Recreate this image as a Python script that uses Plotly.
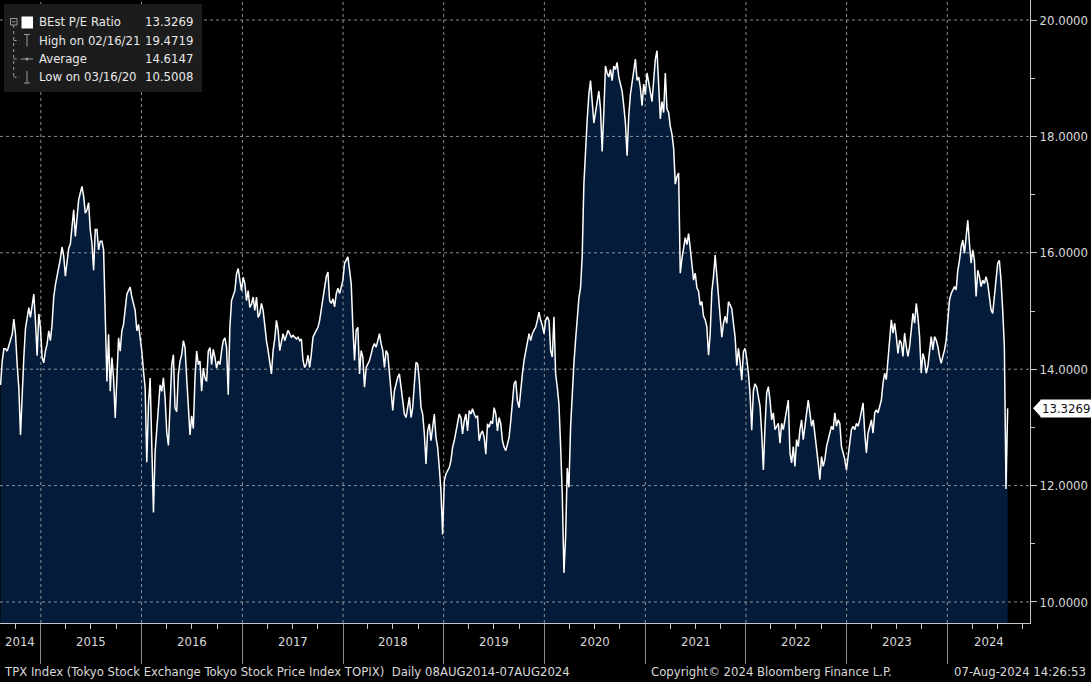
import plotly.graph_objects as go
import pandas as pd

# ---------------- data ----------------
START_DATE = "2014-08-08"
END_DATE = "2024-08-07"

pe_2014_2016 = [
    13.73, 14.14, 14.35, 14.35, 14.31, 14.42, 14.52, 14.6, 14.86, 14.6,
    14.08, 13.68, 12.87, 13.7, 14.2, 14.7, 14.9, 15.06, 14.89, 15.12,
    15.29, 14.83, 14.23, 14.95, 14.72, 14.2, 14.11, 14.31, 14.43, 14.66,
    14.49, 14.77, 15.24, 15.45, 15.6, 15.7, 15.9, 16.1, 15.95, 15.6,
    15.9, 16.08, 16.15, 16.39, 16.74, 16.28, 16.57, 16.91, 17.03, 17.14,
    16.97, 16.68, 16.74, 16.86, 16.39, 16.16, 15.7, 16.4, 16.4, 16.05,
    16.2, 16.2, 16.05, 14.89, 13.79, 14.6, 13.62, 14.2, 13.85, 13.16,
    13.97, 14.54, 14.31, 14.66, 14.77, 15.01, 15.29, 15.35, 15.41, 15.24,
    15.12, 15.01, 14.66, 14.77, 14.54, 14.31, 13.97, 13.68, 12.4, 13.39,
    13.85, 12.9, 11.54, 12.58, 12.92, 13.39, 13.73, 13.62, 13.85, 13.5,
    12.92, 12.69, 13.5, 14.08, 14.25, 13.33, 13.27, 13.91, 14.14, 14.25,
    14.49, 14.37, 13.85, 13.39, 12.87, 13.2, 12.98, 13.85, 14.31, 14.08,
    14.14, 13.62, 14.02, 13.85, 13.79, 14.31, 14.37, 14.08, 14.34, 14.2,
    14.02, 14.14, 14.08, 14.31, 14.49, 14.54, 14.37, 13.56, 14.72, 15.18,
    15.29, 15.35, 15.64, 15.73, 15.53, 15.35, 15.58, 15.47, 15.18, 15.35,
    15.06, 15.12, 15.24, 15.01, 15.24, 14.89,
]

pe_2017_2020 = [
    14.95, 15.13, 15.01, 14.72, 14.49, 14.32, 14.09, 13.92, 14.32, 14.52,
    14.84, 14.67, 14.32, 14.49, 14.61, 14.49, 14.58, 14.67, 14.61, 14.55,
    14.58, 14.55, 14.52, 14.55, 14.49, 14.52, 14.15, 14.03, 14.09, 14.24,
    14.03, 14.26, 14.55, 14.61, 14.67, 14.72, 14.84, 15.01, 15.18, 15.36,
    15.59, 15.67, 15.18, 15.13, 15.21, 15.07, 15.3, 15.39, 15.3, 15.41,
    15.53, 15.82, 15.87, 15.93, 15.7, 15.47, 14.72, 14.15, 14.67, 14.72,
    13.92, 14.32, 14.21, 13.69, 14.03, 14.09, 14.15, 14.26, 14.38, 14.44,
    14.38, 14.49, 14.61, 14.44, 14.32, 14.03, 14.32, 14.26, 13.92, 13.69,
    13.29, 13.63, 13.75, 13.86, 13.92, 13.69, 13.52, 13.23, 13.17, 13.34,
    13.52, 13.17, 13.34, 13.75, 14.12, 14.09, 13.8, 13.34, 13.23, 12.89,
    12.37, 12.94, 13.06, 12.77, 13.0, 13.23, 12.83, 12.66, 12.31, 11.91,
    11.16, 12.08, 12.2, 12.25, 12.31, 12.43, 12.66, 12.77, 12.94, 13.11,
    13.23, 13.17, 12.89, 13.11, 13.23, 12.94, 13.29, 13.23, 13.32, 13.23,
    13.17, 13.2, 12.77, 12.89, 12.94, 12.83, 12.54, 13.06, 13.0, 13.11,
    13.06, 13.34, 13.23, 12.94, 13.17, 13.06, 12.77, 12.66, 12.6, 12.71,
    12.83, 13.11, 13.46, 13.75, 13.8, 13.46, 13.34, 13.69, 13.92, 14.15,
    14.32, 14.44, 14.61, 14.49, 14.61, 14.67, 14.72, 14.84, 14.98, 14.84,
    14.75, 14.61, 14.84, 14.9, 14.84, 14.32, 14.21, 14.9, 13.92, 13.69,
    13.4,
]

pe_2020_2022 = [
    12.68, 11.85, 10.5008, 11.11, 12.3, 11.97, 13.0, 13.69, 14.1, 14.5,
    14.85, 15.22, 15.4, 15.95, 17.18, 17.8, 18.29, 18.72, 18.96, 18.6,
    18.23, 18.41, 18.6, 18.78, 18.47, 17.74, 18.41, 19.21, 19.09, 19.02,
    19.15, 18.96, 19.21, 19.15, 19.27, 19.02, 18.9, 18.78, 18.53, 18.23,
    17.67, 18.35, 18.72, 18.9, 19.09, 19.33, 18.96, 19.02, 18.84, 18.53,
    18.9, 18.72, 19.09, 18.9, 18.78, 18.6, 18.96, 19.33, 19.4719, 18.95,
    18.3, 18.6, 18.41, 19.09, 18.47, 18.41, 18.17, 18.04, 17.8, 17.18,
    17.31, 17.37, 15.65, 15.9, 16.08, 16.26, 16.14, 16.33, 16.08, 15.83,
    15.53, 15.65, 15.4, 15.34, 15.1, 15.16, 14.91, 14.85, 14.73, 14.24,
    14.6, 15.34, 15.59, 15.96, 15.59, 15.28, 14.91, 14.55, 14.79, 14.91,
    14.79, 15.16, 15.1, 15.04, 14.79, 14.55, 14.06, 14.36, 14.12, 13.81,
    14.3, 14.36, 14.18, 13.93, 13.56, 12.95, 13.63, 13.75, 13.69, 13.5,
]

pe_2022_2024 = [
    13.36, 12.9, 12.27, 13.02, 13.59, 13.7, 13.47, 13.13, 13.25, 12.96,
    13.02, 13.07, 12.73, 13.07, 12.96, 13.13, 13.36, 13.47, 12.56, 12.39,
    12.67, 12.33, 12.79, 12.67, 12.96, 13.13, 12.79, 13.02, 13.25, 13.47,
    13.25, 13.02, 13.13, 12.9, 12.67, 12.39, 12.1, 12.5, 12.33, 12.45,
    12.67, 12.79, 12.9, 13.02, 12.96, 13.25, 13.02, 13.13, 13.07, 12.67,
    12.56, 12.45, 12.27, 12.5, 12.73, 12.96, 13.02, 12.96, 13.07, 13.02,
    13.13, 13.25, 13.42, 12.9, 12.56, 12.9, 13.02, 13.13, 12.9, 13.25,
    13.3, 13.25, 13.36, 13.47, 13.76, 13.93, 13.82, 14.16, 14.5, 14.85,
    14.62, 14.79, 14.56, 14.27, 14.5, 14.45, 14.22, 14.62, 14.39, 14.22,
    14.39, 14.73, 14.96, 14.79, 15.13, 14.9, 14.56, 13.93, 14.27, 14.16,
    13.93, 14.05, 14.27, 14.56, 14.33, 14.56, 14.5, 14.39, 14.22, 14.1,
    14.22, 14.33, 14.5, 14.79, 15.19, 15.3, 15.36, 15.42, 15.36, 15.7,
    15.87, 16.1, 16.22, 15.99, 16.27, 16.56, 16.16, 15.82, 16.05, 15.87,
    15.25, 15.7, 15.59, 15.42, 15.53, 15.47, 15.59, 15.47, 15.25, 15.02,
    14.96, 15.25, 15.65, 15.82, 15.87, 15.53, 15.02, 14.4, 11.94, 13.3269,
]

pe_values = pe_2014_2016 + pe_2017_2020 + pe_2020_2022 + pe_2022_2024
dates = pd.date_range(START_DATE, END_DATE, periods=len(pe_values))

x_range = ["2014-08-06", "2024-10-27"]
y_range = [9.639, 20.344]
y_ticks = [10, 12, 14, 16, 18, 20]
y_tick_labels = ["10.0000", "12.0000", "14.0000", "16.0000", "18.0000", "20.0000"]
y_minor_ticks = [11, 13, 15, 17, 19]
years = list(range(2014, 2025))
year_starts = [f"{y}-01-01" for y in years[1:]]

series_name = "BEst P/E Ratio"
last_value = 13.3269
legend_rows = [
    ("BEst P/E Ratio", "13.3269"),
    ("High on 02/16/21", "19.4719"),
    ("Average", "14.6147"),
    ("Low on 03/16/20", "10.5008"),
]
footer_left = "TPX Index (Tokyo Stock Exchange Tokyo Stock Price Index TOPIX)  Daily 08AUG2014-07AUG2024"
footer_mid = "Copyright\u00a9 2024 Bloomberg Finance L.P."
footer_right = "07-Aug-2024 14:26:53"

# ---------------- styling ----------------
W, H = 1091, 682
ML, MR, MT, MB = 0, 61, 0, 59
PW, PH = W - ML - MR, H - MT - MB
FONT = "DejaVu Sans Condensed, DejaVu Sans, sans-serif"
TXT = "#d9d9d9"
FILL = "#041C3A"
AXIS = "#c8c8c8"
GRID = "rgba(175,175,175,0.8)"


def px(x):
    return x / PW


def py(y):
    return 1 - y / PH


fig = go.Figure()

# area fill
fig.add_trace(go.Scatter(
    x=dates, y=pe_values, mode="lines", line=dict(width=0, color=FILL),
    fill="tozeroy", fillcolor=FILL, hoverinfo="skip", showlegend=False))

# dotted grid drawn above the fill but below the line
gx, gy = [], []
for v in y_ticks:
    gx += [x_range[0], x_range[1], None]
    gy += [v, v, None]
for ys in year_starts:
    gx += [ys, ys, None]
    gy += [y_range[0], y_range[1], None]
fig.add_trace(go.Scatter(
    x=gx, y=gy, mode="lines", line=dict(color=GRID, width=1, dash="dot"),
    hoverinfo="skip", showlegend=False, connectgaps=False))

# white series line
fig.add_trace(go.Scatter(
    x=dates, y=pe_values, mode="lines", name=series_name,
    line=dict(color="white", width=1.5), showlegend=False))

annotations = []
shapes = []

# year labels centred in visible part of each year
xr0, xr1 = pd.Timestamp(x_range[0]), pd.Timestamp(x_range[1])
for y in years:
    s = max(pd.Timestamp(f"{y}-01-01"), xr0)
    e = min(pd.Timestamp(f"{y + 1}-01-01"), xr1)
    mid = s + (e - s) / 2
    annotations.append(dict(
        x=mid, y=py(641), xref="x", yref="paper", text=str(y), showarrow=False,
        font=dict(family=FONT, size=13, color=TXT), xanchor="center", yanchor="middle"))

# footer
annotations += [
    dict(x=px(2), y=py(671), xref="paper", yref="paper", text=footer_left, showarrow=False,
         font=dict(family=FONT, size=13, color=TXT), xanchor="left", yanchor="middle"),
    dict(x=px(649), y=py(671), xref="paper", yref="paper", text=footer_mid, showarrow=False,
         font=dict(family=FONT, size=13, color=TXT), xanchor="left", yanchor="middle"),
    dict(x=px(1088), y=py(671), xref="paper", yref="paper", text=footer_right, showarrow=False,
         font=dict(family=FONT, size=13, color=TXT), xanchor="right", yanchor="middle"),
]

# last value tag on the right axis
annotations.append(dict(
    x=1, y=last_value, xref="paper", yref="y", text=f"{last_value:.4f}", showarrow=False,
    xanchor="left", yanchor="middle", xshift=10, bgcolor="white", borderpad=1,
    font=dict(family=FONT, size=13, color="#111111")))
shapes.append(dict(
    type="path", xref="paper", yref="y", layer="above",
    path=f"M {px(1033)},{last_value} L {px(1041)},{last_value + 0.15} L {px(1041)},{last_value - 0.15} Z",
    fillcolor="white", line=dict(width=0)))

# legend box
shapes.append(dict(type="rect", xref="paper", yref="paper", layer="above",
                   x0=px(4), x1=px(202), y0=py(92), y1=py(4),
                   fillcolor="#1c1c1c", line=dict(width=0)))
row_y = [22, 40.5, 59, 77]
for (label, val), ry in zip(legend_rows, row_y):
    annotations.append(dict(x=px(37), y=py(ry), xref="paper", yref="paper", text=label,
                            showarrow=False, xanchor="left", yanchor="middle",
                            font=dict(family=FONT, size=13, color="#e8e8e8")))
    annotations.append(dict(x=px(195), y=py(ry), xref="paper", yref="paper", text=val,
                            showarrow=False, xanchor="right", yanchor="middle",
                            font=dict(family=FONT, size=13, color="#e8e8e8")))

ICON = "#9a9a9a"


def seg(x0, y0, x1, y1, dash="solid"):
    shapes.append(dict(type="line", xref="paper", yref="paper", layer="above",
                       x0=px(x0), y0=py(y0), x1=px(x1), y1=py(y1),
                       line=dict(color=ICON, width=1, dash=dash)))


# tree "minus" box
shapes.append(dict(type="rect", xref="paper", yref="paper", layer="above",
                   x0=px(10.5), x1=px(17), y0=py(25), y1=py(18.5),
                   line=dict(color=ICON, width=1), fillcolor="#1c1c1c"))
seg(12, 21.8, 15.5, 21.8)
seg(13.7, 25, 13.7, 77, "dot")
for ry in row_y[1:]:
    seg(13.7, ry, 20, ry, "dot")
# white square for main series
shapes.append(dict(type="rect", xref="paper", yref="paper", layer="above",
                   x0=px(21.5), x1=px(33), y0=py(28.5), y1=py(16.5),
                   fillcolor="white", line=dict(width=0)))
# high icon
seg(24, 34.5, 30, 34.5)
seg(27, 34.5, 27, 46.5)
# average icon
seg(21, 59, 33, 59)
shapes.append(dict(type="circle", xref="paper", yref="paper", layer="above",
                   x0=px(25.5), x1=px(28.5), y0=py(60.5), y1=py(57.5),
                   fillcolor=ICON, line=dict(width=0)))
# low icon
seg(27, 71, 27, 83)
seg(24, 83, 30, 83)

fig.update_layout(
    width=W, height=H,
    margin=dict(l=ML, r=MR, t=MT, b=MB, autoexpand=False),
    paper_bgcolor="black", plot_bgcolor="black",
    showlegend=False,
    xaxis=dict(
        type="date", range=x_range, tickvals=year_starts, showticklabels=False,
        ticks="outside", ticklen=40, tickcolor="#8c8c8c", tickwidth=1,
        showline=True, linecolor=AXIS, linewidth=1, showgrid=False, zeroline=False,
        minor=dict(ticks="outside", ticklen=5, dtick="M3", tick0="2015-01-01",
                   tickcolor=AXIS, showgrid=False),
    ),
    yaxis=dict(
        side="right", range=y_range, tickvals=y_ticks, ticktext=y_tick_labels,
        ticks="outside", ticklen=6, tickcolor=AXIS, showline=True, linecolor=AXIS,
        linewidth=1, showgrid=False, zeroline=False,
        tickfont=dict(family=FONT, size=13, color=TXT),
        minor=dict(ticks="outside", ticklen=4, tickvals=y_minor_ticks, tickcolor=AXIS,
                   showgrid=False),
    ),
    annotations=annotations,
    shapes=shapes,
)

fig.write_html(
    "out.html",
    config={"displayModeBar": False},
    post_script="document.body.style.margin='0';document.body.style.background='black';",
)
